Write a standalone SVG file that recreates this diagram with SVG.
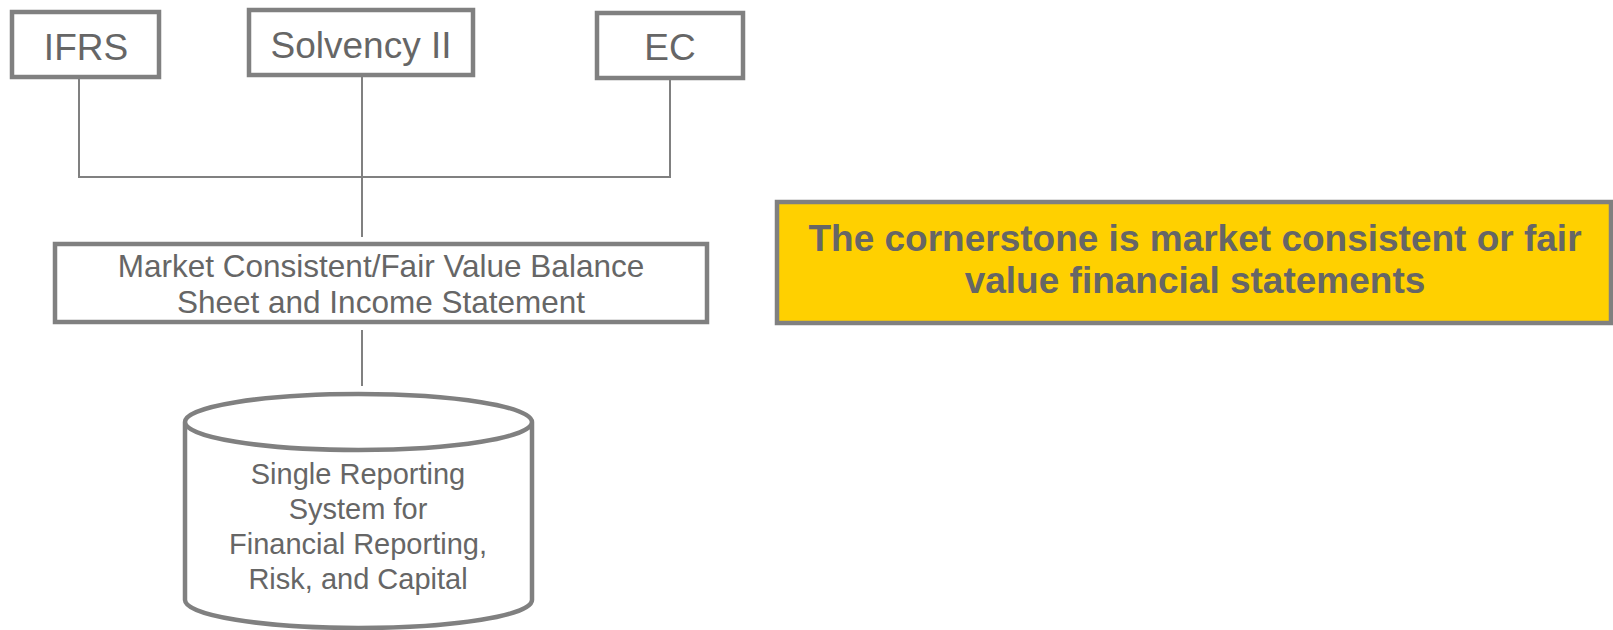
<svg xmlns="http://www.w3.org/2000/svg" width="1613" height="630" viewBox="0 0 1613 630">
<style>
.box{fill:#fff;stroke:#808080;stroke-width:4.5}
.t{font-family:"Liberation Sans",Arial,sans-serif;fill:#666;text-anchor:middle}
.big{font-size:37px}
.mid{font-size:31.5px}
.cyl{font-size:29px}
.b{font-weight:bold;font-size:37px}
.conn{fill:none;stroke:#808080;stroke-width:2}
</style>
<rect width="1613" height="630" fill="#fff"/>
<g id="connectors">
<path class="conn" d="M79 77 V177 H670 V78"/>
<path class="conn" d="M362 75 V237"/>
<path class="conn" d="M362 330 V386"/>
</g>
<g id="ifrs">
<rect class="box" x="12" y="12" width="147" height="65"/>
<text class="t big" x="86" y="60">IFRS</text>
</g>
<g id="solvency">
<rect class="box" x="249" y="10" width="224" height="65"/>
<text class="t big" x="361" y="58">Solvency II</text>
</g>
<g id="ec">
<rect class="box" x="597" y="13" width="146" height="65"/>
<text class="t big" x="670" y="60">EC</text>
</g>
<g id="balance">
<rect class="box" x="55" y="244" width="652" height="78"/>
<text class="t mid" x="381" y="277">Market Consistent/Fair Value Balance</text>
<text class="t mid" x="381" y="313">Sheet and Income Statement</text>
</g>
<g id="system">
<path class="box" d="M185 422 V600 A173.5 28 0 0 0 532 600 V422 A173.5 28 0 0 0 185 422 A173.5 28 0 0 0 532 422"/>
<text class="t cyl" x="358" y="484">Single Reporting</text>
<text class="t cyl" x="358" y="519">System for</text>
<text class="t cyl" x="358" y="554">Financial Reporting,</text>
<text class="t cyl" x="358" y="589">Risk, and Capital</text>
</g>
<g id="cornerstone">
<rect x="777" y="202" width="834" height="121" fill="#FFD000" stroke="#808080" stroke-width="4.5"/>
<text class="t b" x="1195" y="251">The cornerstone is market consistent or fair</text>
<text class="t b" x="1195" y="293">value financial statements</text>
</g>
</svg>
